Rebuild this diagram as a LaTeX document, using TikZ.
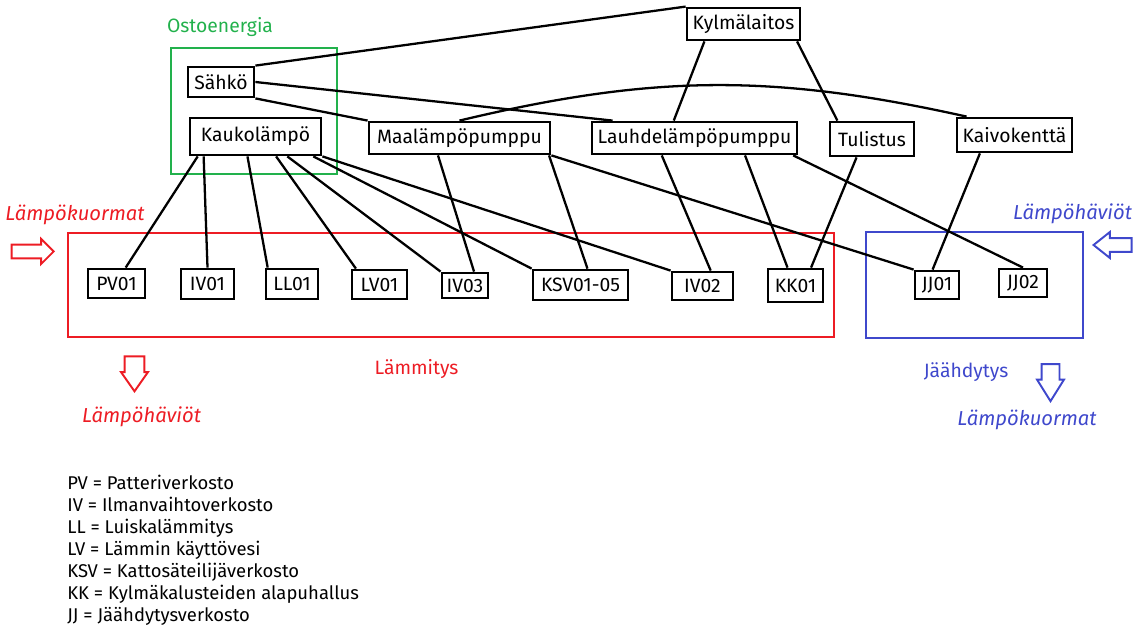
\documentclass[tikz,border=0pt]{standalone}
\usepackage{fontspec}
\setmainfont{Fira Sans}
\usetikzlibrary{shapes.arrows}

\definecolor{paintred}{RGB}{237,28,36}
\definecolor{paintblue}{RGB}{63,72,204}
\definecolor{paintgreen}{RGB}{34,177,76}

\tikzset{
  box/.style={draw, line width=1.6pt, inner sep=1pt, font=\fontsize{11}{13}\selectfont},
  link/.style={line width=1.3pt},
  zone/.style={line width=1.2pt},
  lbl/.style={inner sep=0pt, font=\fontsize{11}{13}\selectfont},
  ital/.style={inner sep=0pt, font=\fontsize{11.5}{13}\selectfont\itshape},
  fat/.style={single arrow, draw, line width=1.1pt, inner xsep=0pt, minimum width=0pt},
}

\begin{document}
\begin{tikzpicture}[x=0.02cm, y=-0.02cm]
  \useasboundingbox (0,0) rectangle (1143,628);

  % areas
  \draw[zone, paintgreen] (171,48) rectangle (337,174);
  \draw[zone, paintred] (68,233) rectangle (834,337);
  \draw[zone, paintblue] (866,232) rectangle (1083,338);

  % upper boxes
  \node[box, minimum width=2.26cm, minimum height=0.64cm] (kylma) at (743.5,24) {Kylmälaitos};
  \node[box, minimum width=1.32cm, minimum height=0.60cm] (sahko) at (221,82) {Sähkö};
  \node[box, minimum width=2.62cm, minimum height=0.74cm] (kauko) at (255.5,136.5) {Kaukolämpö};
  \node[box, minimum width=3.62cm, minimum height=0.64cm] (maa) at (459.5,138) {Maalämpöpumppu};
  \node[box, minimum width=4.10cm, minimum height=0.64cm] (lauhde) at (694.5,138) {Lauhdelämpöpumppu};
  \node[box, minimum width=1.68cm, minimum height=0.68cm] (tulistus) at (872,139) {Tulistus};
  \node[box, minimum width=2.30cm, minimum height=0.68cm] (kaivo) at (1014.5,135) {Kaivokenttä};

  % networks
  \node[box, minimum width=1.14cm, minimum height=0.58cm] (pv01) at (116.5,283.5) {PV01};
  \node[box, minimum width=1.06cm, minimum height=0.60cm] (iv01) at (207.5,284) {IV01};
  \node[box, minimum width=1.04cm, minimum height=0.60cm] (ll01) at (292,284) {LL01};
  \node[box, minimum width=1.10cm, minimum height=0.58cm] (lv01) at (379.5,284.5) {LV01};
  \node[box, minimum width=0.92cm, minimum height=0.50cm] (iv03) at (465,285.5) {IV03};
  \node[box, minimum width=1.90cm, minimum height=0.60cm] (ksv) at (580.5,285) {KSV01-05};
  \node[box, minimum width=1.22cm, minimum height=0.56cm] (iv02) at (702.5,286) {IV02};
  \node[box, minimum width=1.10cm, minimum height=0.66cm] (kk01) at (795.5,285.5) {KK01};
  \node[box, minimum width=0.88cm, minimum height=0.56cm] (jj01) at (937,285) {JJ01};
  \node[box, minimum width=0.96cm, minimum height=0.56cm] (jj02) at (1023,283) {JJ02};

  % connections
  \draw[link] (sahko.north east) -- (kylma.north west);
  \draw[link] (sahko.east) -- (lauhde.168);
  \draw[link] (sahko.south east) -- (maa.north west);
  \draw[link] (maa.north) to[bend left=13] (kaivo.159);
  \draw[link] (kylma.204) -- (lauhde.140);
  \draw[link] (kylma.342) -- (tulistus.152);

  \draw[link] (kauko.199) -- (pv01.60);
  \draw[link] (kauko.201) -- (iv01.north);
  \draw[link] (kauko.248) -- (ll01.146);
  \draw[link] (kauko.316) -- (lv01.146);
  \draw[link] (kauko.328) -- (iv03.north west);
  \draw[link] (kauko.341) -- (ksv.north west);
  \draw[link] (kauko.south east) -- (iv02.north west);

  \draw[link] (maa.219) -- (iv03.57);
  \draw[link] (maa.349) -- (ksv.67);
  \draw[link] (maa.south east) -- (jj01.north west);

  \draw[link] (lauhde.208) -- (iv02.62);
  \draw[link] (lauhde.341) -- (kk01.114);
  \draw[link] (lauhde.350) -- (jj02.north);
  \draw[link] (tulistus.230) -- (kk01.49);
  \draw[link] (kaivo.208) -- (jj01.106);

  % labels
  \node[lbl, paintgreen] (ostolbl) at (220,27) {Ostoenergia};
  \node[ital, paintred] (redin) at (75,215) {Lämpökuormat};
  \node[ital, paintred] (redout) at (141.5,417) {Lämpöhäviöt};
  \node[lbl, paintred] (lammlbl) at (416.5,369) {Lämmitys};
  \node[ital, paintblue] (bluein) at (1072.5,214) {Lämpöhäviöt};
  \node[lbl, paintblue] (jaalbl) at (966,372) {Jäähdytys};
  \node[ital, paintblue] (blueout) at (1027,420) {Lämpökuormat};

  % heat flow arrows
  \node[fat, paintred, anchor=tip, inner ysep=0.12cm, minimum height=0.84cm,
        single arrow head extend=0.11cm] (redinarr) at (55,251.5) {};
  \node[fat, paintred, anchor=tip, rotate=-90, inner ysep=0.18cm,
        minimum height=0.70cm, single arrow head extend=0.07cm,
        single arrow tip angle=70] (redoutarr) at (134.5,393) {};
  \node[fat, paintblue, anchor=tip, shape border rotate=180, inner ysep=0.12cm,
        minimum height=0.76cm, single arrow head extend=0.12cm,
        single arrow tip angle=77] (blueinarr) at (1092,245) {};
  \node[fat, paintblue, anchor=tip, rotate=-90, inner ysep=0.16cm,
        minimum height=0.74cm, single arrow head extend=0.09cm,
        single arrow tip angle=64] (blueoutarr) at (1050.5,403) {};

  % legend
  \node[lbl, align=left, anchor=west, font=\fontsize{10.5}{12.5}\selectfont] (legend) at (67,550)
    {PV = Patteriverkosto\\
     IV = Ilmanvaihtoverkosto\\
     LL = Luiskalämmitys\\
     LV = Lämmin käyttövesi\\
     KSV = Kattosäteilijäverkosto\\
     KK = Kylmäkalusteiden alapuhallus\\
     JJ = Jäähdytysverkosto};

\end{tikzpicture}
\end{document}
